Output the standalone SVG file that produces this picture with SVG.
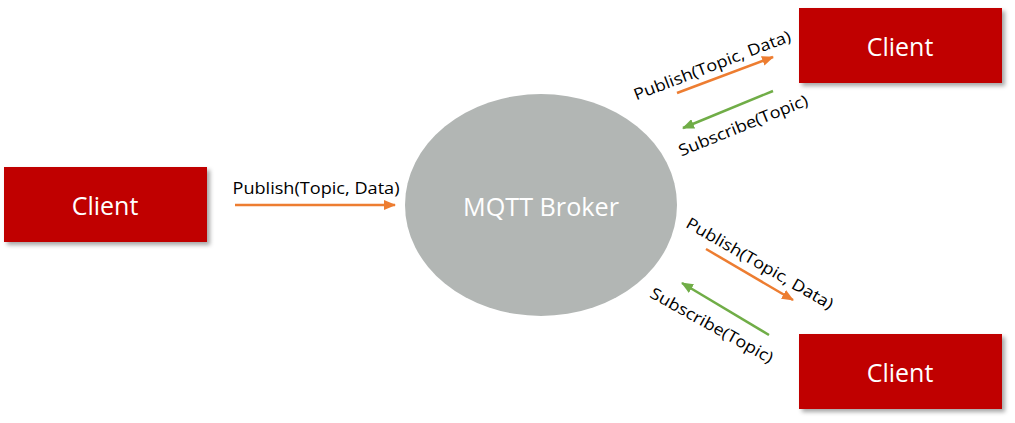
<svg xmlns="http://www.w3.org/2000/svg" width="1015" height="423" viewBox="0 0 1015 423">
<style>
.box{fill:#c00000;filter:url(#sh)}
.nt{font-family:"Open Sans","Liberation Sans",sans-serif;font-size:25px;fill:#ffffff;text-anchor:middle;dominant-baseline:central}
.lb{font-family:"Open Sans","Liberation Sans",sans-serif;font-size:16px;fill:#000000;text-anchor:middle;dominant-baseline:central}
.pub{stroke:#ed7d31;stroke-width:2.5;fill:none;marker-end:url(#ao)}
.sub{stroke:#70ad47;stroke-width:2.5;fill:none;marker-end:url(#ag)}
</style>
<defs>
<filter id="sh" x="-10%" y="-20%" width="130%" height="150%">
<feDropShadow dx="3" dy="3" stdDeviation="2" flood-color="#000" flood-opacity="0.35"/>
</filter>
<marker id="ao" markerUnits="userSpaceOnUse" markerWidth="12" markerHeight="10" refX="11" refY="5" orient="auto">
<path d="M0,0 L12,5 L0,10 Z" fill="#ed7d31"/>
</marker>
<marker id="ag" markerUnits="userSpaceOnUse" markerWidth="12" markerHeight="10" refX="11" refY="5" orient="auto">
<path d="M0,0 L12,5 L0,10 Z" fill="#70ad47"/>
</marker>
</defs>
<rect width="1015" height="423" fill="#ffffff"/>
<g id="broker">
<ellipse cx="541" cy="205" rx="136" ry="111" fill="#b2b6b4"/>
<text class="nt" x="541" y="206" textLength="156" lengthAdjust="spacingAndGlyphs">MQTT Broker</text>
</g>
<g id="client-left">
<rect class="box" x="4" y="167" width="203" height="75"/>
<text class="nt" x="105" y="205">Client</text>
</g>
<g id="client-top">
<rect class="box" x="799" y="8" width="203" height="75"/>
<text class="nt" x="900" y="46">Client</text>
</g>
<g id="client-bottom">
<rect class="box" x="799" y="334" width="203" height="75"/>
<text class="nt" x="900" y="372">Client</text>
</g>
<g id="connectors">
<line class="pub" x1="235" y1="205" x2="395" y2="205"/>
<line class="pub" x1="677" y1="93" x2="773" y2="57"/>
<line class="sub" x1="773" y1="91" x2="683" y2="128"/>
<line class="pub" x1="706" y1="249" x2="793" y2="300"/>
<line class="sub" x1="769" y1="335" x2="682" y2="283"/>
<text class="lb" x="316" y="188" textLength="167" lengthAdjust="spacingAndGlyphs">Publish(Topic, Data)</text>
<text class="lb" transform="translate(712,65) rotate(-21)" textLength="167" lengthAdjust="spacingAndGlyphs">Publish(Topic, Data)</text>
<text class="lb" transform="translate(743,125) rotate(-22)" textLength="138" lengthAdjust="spacingAndGlyphs">Subscribe(Topic)</text>
<text class="lb" transform="translate(760,263) rotate(30)" textLength="167" lengthAdjust="spacingAndGlyphs">Publish(Topic, Data)</text>
<text class="lb" transform="translate(712,325) rotate(29)" textLength="138" lengthAdjust="spacingAndGlyphs">Subscribe(Topic)</text>
</g>
</svg>
